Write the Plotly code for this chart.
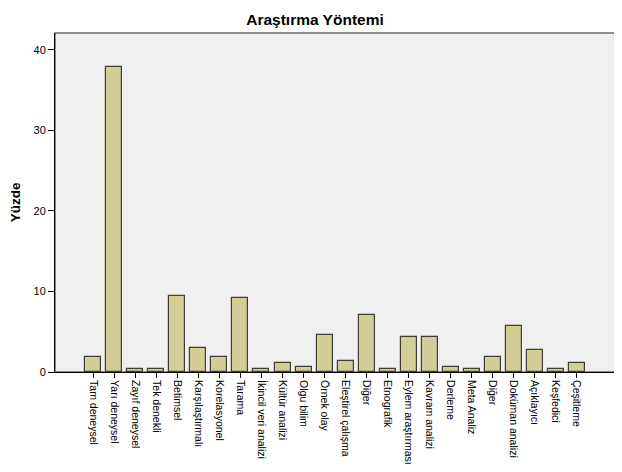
import plotly.graph_objects as go

# categories and percentages
categories = ["Tam deneysel", "Yarı deneysel", "Zayıf deneysel", "Tek denekli",
              "Betimsel", "Karşılaştırmalı", "Korelasyonel", "Tarama",
              "İkincil veri analizi", "Kültür analizi", "Olgu bilim", "Örnek olay",
              "Eleştirel çalışma", "Diğer", "Etnografik", "Eylem araştırması",
              "Kavram analizi", "Derleme", "Meta Analiz", "Diğer",
              "Doküman analizi", "Açıklayıcı", "Keşfedici", "Çeşitleme"]
percent = [1.9, 37.9, 0.36, 0.36, 9.5, 3.0, 1.9, 9.2,
           0.36, 1.1, 0.6, 4.6, 1.4, 7.1, 0.36, 4.4,
           4.4, 0.6, 0.36, 1.9, 5.7, 2.7, 0.36, 1.1]
y_ticks = [0, 10, 20, 30, 40]

positions = list(range(len(categories)))

fig = go.Figure(go.Bar(
    x=positions,
    y=percent,
    width=0.76,
    marker=dict(color="#d3ce98", line=dict(color="#3e3e32", width=1.2)),
    hoverinfo="y"
))

# page body has an 8px margin, so the figure is sized a bit smaller
fig.update_layout(
    width=614, height=464,
    margin=dict(l=47, r=6, t=25, b=100, autoexpand=False),
    paper_bgcolor="white",
    plot_bgcolor="#f0f0f0",
    font=dict(family="Liberation Sans, Arial, sans-serif", size=11, color="black"),
    title=dict(text="<b>Araştırma Yöntemi</b>", x=0.5, xanchor="center",
               y=0.974, yanchor="middle", font=dict(size=15.5)),
    showlegend=False,
    bargap=0,
)
fig.update_xaxes(
    automargin=False,
    range=[-1.82, 24.86],
    tickmode="array", tickvals=positions, ticktext=categories,
    tickangle=90, ticks="outside", ticklen=5, tickcolor="black",
    showgrid=False, zeroline=False,
    showline=True, linecolor="black", linewidth=1, mirror=False,
    tickfont=dict(size=10.5),
)
fig.update_yaxes(
    automargin=False,
    range=[0, 42.1],
    tickmode="array", tickvals=y_ticks,
    ticks="outside", ticklen=6, tickcolor="black",
    showgrid=False, zeroline=False,
    showline=True, linecolor="black", linewidth=1,
    title=dict(text="<b>Yüzde</b>", font=dict(size=13.5), standoff=18),
)
# frame around the plot area (top and right)
fig.add_shape(type="rect", xref="paper", yref="paper", x0=0, y0=0, x1=1, y1=1,
              line=dict(color="#6e6e6e", width=1.5), layer="below")

fig.write_html("out.html")
